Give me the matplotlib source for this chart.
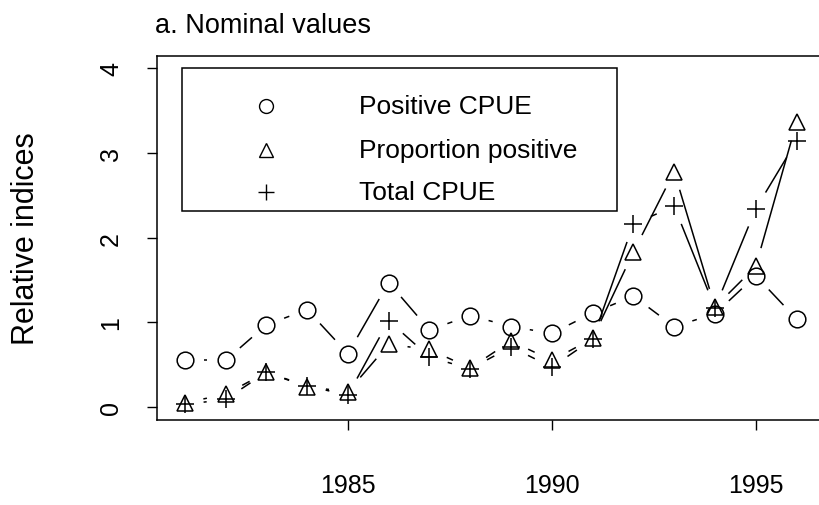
import numpy as np
import matplotlib.pyplot as plt
from matplotlib.lines import Line2D
from matplotlib.patches import Rectangle

plt.rcParams['font.family'] = ['Liberation Sans', 'DejaVu Sans']

# data
years = [1981, 1982, 1983, 1984, 1985, 1986, 1987, 1988,
         1989, 1990, 1991, 1992, 1993, 1994, 1995, 1996]
positive_cpue = [0.55, 0.55, 0.97, 1.15, 0.63, 1.47, 0.91, 1.08,
                 0.95, 0.87, 1.11, 1.31, 0.95, 1.10, 1.55, 1.04]
prop_positive = [0.05, 0.15, 0.41, 0.24, 0.18, 0.74, 0.68, 0.46,
                 0.78, 0.55, 0.81, 1.83, 2.78, 1.18, 1.66, 3.36]
total_cpue = [0.03, 0.09, 0.41, 0.25, 0.14, 1.02, 0.59, 0.45,
              0.71, 0.47, 0.80, 2.16, 2.37, 1.17, 2.34, 3.14]

series_labels = ["Positive CPUE", "Proportion positive", "Total CPUE"]
markers = ["o", "^", "+"]
x_ticks = [1985, 1990, 1995]
y_ticks = [0, 1, 2, 3, 4]

W, H, DPI = 820, 506, 100
fig = plt.figure(figsize=(W / DPI, H / DPI), dpi=DPI)


def fig_xy(px, py):
    # pixel position (from top-left) -> figure fraction
    return px / W, 1 - py / H


ax = fig.add_axes([157 / W, (H - 421) / H, (821 - 157) / W, (421 - 57) / H])
ax.set_xlim(1980.32, 1996.6)
ax.set_ylim(-0.153, 4.144)
for s in ax.spines.values():
    s.set_linewidth(1.1)

ax.set_xticks(x_ticks)
ax.set_yticks(y_ticks)
ax.tick_params(axis='both', direction='out', length=7.5, width=1.0,
               labelsize=18)
ax.tick_params(axis='x', pad=31)
ax.tick_params(axis='y', pad=17, labelrotation=90)
for lab in ax.get_yticklabels():
    lab.set_va('center')

fig.text(*fig_xy(26, 239), "Relative indices", fontsize=22, rotation=90,
         ha='center', va='center')
fig.text(*fig_xy(155, 33), "a. Nominal values", fontsize=19.5,
         ha='left', va='baseline')


def gapped_segments(x, y, gap_px):
    # R type="b": segments stop short of the points
    pts = ax.transData.transform(np.column_stack([x, y]))
    inv = ax.transData.inverted()
    out = []
    for p0, p1 in zip(pts[:-1], pts[1:]):
        d = p1 - p0
        L = np.hypot(d[0], d[1])
        if L <= 2 * gap_px:
            continue
        u = d / L
        out.append(inv.transform(np.array([p0 + u * gap_px, p1 - u * gap_px])))
    return out


gap = 19 * fig.dpi / DPI
for vals, mk in zip([positive_cpue, prop_positive, total_cpue], markers):
    for seg in gapped_segments(years, vals, gap):
        ax.plot(seg[:, 0], seg[:, 1], color='black', lw=1.1,
                solid_capstyle='butt')
    ms = 13 if mk == "+" else 12
    ax.plot(years, vals, linestyle='none', marker=mk, ms=ms,
            mfc='none', mec='black', mew=1.1)

# legend box drawn like R's legend()
x0, y0 = fig_xy(182, 212)
x1, y1 = fig_xy(617, 69)
fig.add_artist(Rectangle((x0, y0), x1 - x0, y1 - y0, transform=fig.transFigure,
                         fill=False, lw=1.1, edgecolor='black'))
for row_y, mk, lab in zip([107, 151, 193], markers, series_labels):
    mx, my = fig_xy(266, row_y)
    fig.add_artist(Line2D([mx], [my], marker=mk, ms=10 if mk != "+" else 11,
                          mfc='none', mec='black', mew=1.0, linestyle='none',
                          transform=fig.transFigure))
    tx, ty = fig_xy(359, row_y)
    fig.text(tx, ty, lab, fontsize=19, ha='left', va='center')

fig.savefig("out.png", dpi=DPI)
